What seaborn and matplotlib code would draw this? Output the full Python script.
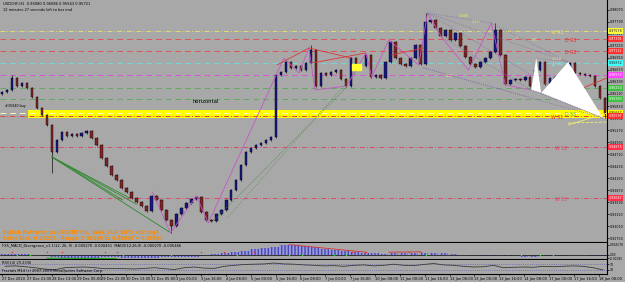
import numpy as np
import pandas as pd
import matplotlib
matplotlib.use("Agg")
import matplotlib.pyplot as plt
import seaborn as sns
from matplotlib.patches import Polygon, Rectangle

# ---------------- data ----------------
open0 = 0.96110
closes = [0.96156, 0.96203, 0.96483, 0.96296, 0.96366, 0.96250, 0.96040, 0.95784, 0.95621, 0.95388,
          0.94758, 0.95038, 0.95224, 0.95131, 0.95178, 0.95131, 0.95201, 0.95248, 0.95085, 0.94922,
          0.94619, 0.94432, 0.94223, 0.94106, 0.93920, 0.93826, 0.93687, 0.93593, 0.93500, 0.93384,
          0.93733, 0.93640, 0.93407, 0.93174, 0.93034, 0.93314, 0.93454, 0.93570, 0.93663, 0.93710,
          0.93360, 0.93174, 0.93151, 0.93314, 0.93407, 0.93640, 0.93873, 0.94106, 0.94456, 0.94758,
          0.94852, 0.94922, 0.94968, 0.95038, 0.95108, 0.96553, 0.96622, 0.96855, 0.96716, 0.96762,
          0.96669, 0.96832, 0.97135, 0.96296, 0.96599, 0.96553, 0.96622, 0.96669, 0.96459, 0.96296,
          0.96949, 0.96786, 0.96762, 0.97019, 0.96506, 0.96553, 0.96483, 0.96855, 0.97321, 0.96949,
          0.96809, 0.96762, 0.96949, 0.97252, 0.96809, 0.97787, 0.97834, 0.97648, 0.97461, 0.97601,
          0.97368, 0.97531, 0.97228, 0.96972, 0.96809, 0.96739, 0.96855, 0.96949, 0.97088, 0.97601,
          0.97019, 0.96343, 0.96436, 0.96459, 0.96436, 0.96506, 0.96296, 0.96669, 0.96855, 0.96343,
          0.96483, 0.96506, 0.96553, 0.96716, 0.96832, 0.96599, 0.96576, 0.96553, 0.96529, 0.96296,
          0.96017, 0.95644]
wick_bars = [2, 10, 34, 62, 85, 99, 121]
wick_prices = [0.96553, 0.94269, 0.92871, 0.97252, 0.97997, 0.97764, 0.95551]

price_ticks = [0.98070, 0.97790, 0.97510, 0.97230, 0.96950, 0.96670, 0.96390, 0.96110, 0.95830,
               0.95550, 0.95270, 0.94990, 0.94710, 0.94430, 0.94150, 0.93870, 0.93590, 0.93310,
               0.93030, 0.92750]

level_names = ['W R1', 'D R3', 'D R2', 'W PP', 'D PP', 'D S1', 'D S2', 'D S3', 'W S1', 'W S2', 'W S3']
level_prices = [0.97578, 0.97391, 0.97112, 0.96832, 0.96553, 0.96250, 0.95993, 0.95667, 0.95597, 0.94875, 0.93687]
band_low, band_high = 0.95551, 0.95737

time_labels = ['27 Dec 2010', '27 Dec 21:00', '28 Dec 13:00', '29 Dec 05:00', '29 Dec 21:00',
               '30 Dec 13:00', '31 Dec 05:00', '3 Jan 00:00', '3 Jan 16:00', '4 Jan 08:00',
               '5 Jan 00:00', '5 Jan 16:00', '6 Jan 08:00', '7 Jan 00:00', '7 Jan 16:00',
               '10 Jan 08:00', '11 Jan 00:00', '11 Jan 16:00', '12 Jan 08:00', '13 Jan 00:00',
               '13 Jan 16:00', '14 Jan 08:00', '17 Jan 00:00', '17 Jan 16:00', '18 Jan 08:00']

zig_bars = [30.2, 33.8, 39.0, 41.4, 55.2, 56.6, 59.6, 61.6, 62.8, 69.2, 73.0, 74.2, 77.6, 83.6,
            85.4, 88.2, 93.6, 98.2, 101.0, 106.2]
zig_prices = [0.93826, 0.92871, 0.93733, 0.93104, 0.96599, 0.96949, 0.96599, 0.97182, 0.96203,
              0.96296, 0.97065, 0.96506, 0.97368, 0.96786, 0.97997, 0.97438, 0.96669, 0.97764,
              0.96320, 0.96203]

bf_bars = [106.2, 107.2, 108.2, 113.6, 120.6]          # X A B C D
bf_prices = [0.96203, 0.96949, 0.96133, 0.96855, 0.95551]

macd_hist = [0.0002, 0.0003, 0.0002, 0.0000, -0.0003, -0.0006, -0.0008, -0.0008, -0.0007, -0.0007,
             -0.0006, -0.0006, -0.0007, -0.0008, -0.0008, -0.0007, -0.0006, -0.0006, -0.0005, -0.0004,
             -0.0003, 0.0002, 0.0005, 0.0008, 0.0011, 0.0014, 0.0017, 0.0021, 0.0024, 0.0024,
             0.0022, 0.0019, 0.0016, 0.0013, 0.0010, 0.0007, 0.0005, 0.0004, 0.0003, 0.0004,
             0.0005, 0.0005, 0.0006, 0.0006, 0.0005, 0.0003, 0.0001, -0.0002, -0.0003, -0.0003,
             -0.0002, -0.0003, -0.0004, -0.0004, -0.0003, -0.0002, -0.0002, -0.0001, -0.0001, -0.0002,
             -0.0003]
macd_red_marks = [2, 9, 12, 20.6, 23, 40, 44.6, 50.6, 70.2, 73, 81.6, 84]
macd_green_marks = [3, 5.6, 24.2, 34, 47.2, 57.6, 60.2, 66.6, 69, 85, 104.2, 108, 110.6]

rsi_vals = [55, 58, 52, 45, 35, 30, 45, 48, 50, 45, 38, 40, 38, 36, 40, 45, 38, 32, 45, 50,
            42, 40, 55, 62, 68, 70, 72, 78, 72, 70, 65, 62, 58, 60, 55, 62, 65, 58, 62, 70,
            62, 60, 68, 75, 65, 62, 55, 50, 52, 62, 45, 48, 50, 48, 55, 52, 55, 58, 55, 45, 29]

# ---------------- figure ----------------
sns.set_theme(style="white")
plt.rcParams['font.family'] = ['DejaVu Sans']
BG = '#a8a8a8'
W, H = 625, 282
fig = plt.figure(figsize=(6.25, 2.82), dpi=100, facecolor=BG)


def rect(x0, y0, x1, y1):
    return [x0 / W, 1 - y1 / H, (x1 - x0) / W, (y1 - y0) / H]


ax = fig.add_axes(rect(0, 0, 607, 242))
axm = fig.add_axes(rect(0, 243, 607, 259), sharex=ax)
axr = fig.add_axes(rect(0, 260, 607, 274), sharex=ax)
for a in (ax, axm, axr):
    a.set_facecolor(BG)
    for s in ('left', 'top'):
        a.spines[s].set_visible(False)
    for s in ('right', 'bottom'):
        a.spines[s].set_color('black')
        a.spines[s].set_linewidth(0.8)

n = len(closes)
idx = np.arange(n)
c = np.array(closes)
o = np.array([open0] + closes[:-1])
ax.set_xlim(-0.4, 121.4)
ax.set_ylim(0.92661, 0.9830)

# levels
lev_style = {
    'W R1': ('#dede70', (0, (5, 2, 1, 2)), '#e8e870', 110.2),
    'D R3': ('#e05555', (0, (6, 4)), '#e03030', 113),
    'D R2': ('#e05555', (0, (6, 4)), '#e03030', 113),
    'W PP': ('#70d8d8', (0, (6, 4)), '#90e8e8', 110.2),
    'D PP': ('#d855d8', (0, (6, 4)), '#f0c0ff', 113.4),
    'D S1': ('#60aa60', (0, (6, 4)), '#80d080', 113),
    'D S2': ('#60aa60', (0, (6, 4)), '#80d080', 113),
    'D S3': ('#f8f8c0', (0, (6, 4)), '#60b060', 113),
    'W S1': ('#e04040', (0, (5, 2, 1, 2)), '#e03030', 110.2),
    'W S2': ('#d84a6a', (0, (5, 2, 1, 2)), '#d84a6a', 111),
    'W S3': ('#d84a6a', (0, (5, 2, 1, 2)), '#d84a6a', 111),
}
ax.axhspan(band_low, band_high, xmin=(5.2 + 0.4) / 121.8, xmax=1, color='#ffff00', lw=0, zorder=1)
for name, p in zip(level_names, level_prices):
    col, ls, tcol, lx = lev_style[name]
    ax.axhline(p, color=col, lw=0.7, ls=ls, zorder=2)
    ax.text(lx, p + 0.0002, name, color=tcol, fontsize=3.4, va='top', ha='left', zorder=6)

# right-axis coloured price boxes
box_cols = ['#ffff40', '#ff3030', '#ff3030', '#40ffff', '#ff40ff', '#40c040', '#40c040',
            '#ffff00', '#ff3030', '#ff3048', '#ff3048']
box_tc = ['k', 'w', 'w', 'k', 'w', 'w', 'w', 'k', 'w', 'w', 'w']
tr = ax.get_yaxis_transform()
for p, fc, tc in zip(level_prices, box_cols, box_tc):
    ax.text(1.003, p, f'{p:.5f}', transform=tr, fontsize=2.3, va='center', ha='left', color=tc,
            bbox=dict(boxstyle='square,pad=0.2', fc=fc, ec='none'), clip_on=False, zorder=10)

# candles
up = c >= o
body = np.where(np.abs(c - o) < 0.00006, 0.00006, c - o)
lo = np.minimum(o, c) - 0.00025
hi = np.maximum(o, c) + 0.00025
ax.vlines(idx, lo, hi, color='#101010', lw=0.5, zorder=4)
ax.vlines(wick_bars, np.minimum(np.array(wick_prices), c[wick_bars]),
          np.maximum(np.array(wick_prices), c[wick_bars]), color='#101010', lw=0.5, zorder=4)
ax.bar(idx[up], body[up], bottom=o[up], width=0.5, color='#18187a', edgecolor='#000020', lw=0.3, zorder=5)
ax.bar(idx[~up], body[~up], bottom=o[~up], width=0.5, color='#7a2626', edgecolor='#200000', lw=0.3, zorder=5)

# zigzag
sns.lineplot(x=zig_bars, y=zig_prices, ax=ax, color='#c855c8', lw=0.6, sort=False, zorder=6)

# green fan
for eb, ep in [(24.2, 0.93640), (25.6, 0.93687), (33.6, 0.92894), (27.0, 0.93540)]:
    ax.plot([10, eb], [0.94642, ep], color='#2e8a2e', lw=0.6, zorder=6)
# rising green dotted
ax.plot([42.2, 69.2], [0.93127, 0.96273], color='#3a8a3a', lw=0.6, ls=':', zorder=6)
ax.plot([45.2, 72.6], [0.93221, 0.96832], color='#6a8a5a', lw=0.6, ls=':', zorder=6)
# red trend lines
for (b0, p0, b1, p1) in [(55.2, 0.96786, 61.6, 0.97182), (61.6, 0.97182, 70.0, 0.96949),
                         (62.2, 0.96832, 73.0, 0.97065), (78.2, 0.97019, 84.6, 0.97182),
                         (115.6, 0.96203, 121.4, 0.96483)]:
    ax.plot([b0, b1], [p0, p1], color='#d83a3a', lw=0.6, zorder=6)
ax.add_patch(Rectangle((70.2, 0.96669), 1.8, 0.0014, color='#ffff30', zorder=7))

# wedge dotted lines
for (b0, p0, b1, p1) in [(85.4, 0.97997, 113.6, 0.96855), (85.4, 0.97997, 120.6, 0.95551),
                         (84.6, 0.96716, 120.6, 0.95551), (84.6, 0.96716, 105.6, 0.96040),
                         (85.4, 0.97997, 98.2, 0.97764), (98.2, 0.97764, 113.6, 0.96855),
                         (88.2, 0.97438, 106.2, 0.96203)]:
    ax.plot([b0, b1], [p0, p1], color='#8870a0', lw=0.6, ls=':', zorder=6)

# butterfly
X, A, B, C, D = list(zip(bf_bars, bf_prices))
ax.add_patch(Polygon([X, A, B], closed=True, fc='white', ec='none', zorder=6))
ax.add_patch(Polygon([B, C, D], closed=True, fc='white', ec='none', zorder=6))
for (p, q) in [(X, B), (A, C), (B, D), (X, D)]:
    ax.plot([p[0], q[0]], [p[1], q[1]], color='#8870a0', lw=0.5, ls=':', zorder=7)
ax.plot([113.6, 121.4], [0.95388, 0.95667], color='#f0f070', lw=0.6, zorder=7)
ax.plot([113.6, 121.4], [0.95434, 0.95457], color='#f0f070', lw=0.6, ls='--', zorder=7)

for t, b, p in [('0.886', 91.6, 0.97900), ('1.13', 94.2, 0.97760), ('1', 103.0, 0.97380),
                ('0.5', 106.4, 0.97350), ('1.618', 110.2, 0.96900), ('1.27', 89.0, 0.96500)]:
    ax.text(b, p, t, fontsize=2.6, color='#e8e870', zorder=8)

ax.text(38.2, 0.95900, 'horizontal', fontsize=3.8, color='black', zorder=8)
ax.text(0.6, 0.95807, '#35940 buy', fontsize=2.4, color='black', zorder=8)

fig.text(3 / W, 1 - 4 / H, 'USDCHF,H1  0.96080 0.96086 0.95563 0.95721', fontsize=2.6, va='center', color='black')
fig.text(3 / W, 1 - 10 / H, '12 minutes 27 seconds left to bar end', fontsize=2.6, va='center', color='black')
fig.text(3 / W, 1 - 232 / H, 'Bullish Butterfly on USDCHF H1,  WAR_ZUP_INFO_v02.mq4', fontsize=3.4,
         va='center', color='#ff8c00', weight='bold')
fig.text(3 / W, 1 - 238.5 / H, 'Entry Risk: 0.00232 , Range: 0.95389 to 0.95896 = 0.00507', fontsize=3.4,
         va='center', color='#ff8c00', weight='bold')

ax.yaxis.tick_right()
ax.set_yticks(price_ticks)
ax.set_yticklabels([f'{v:.5f}' for v in price_ticks])
ax.tick_params(axis='y', labelsize=2.3, length=1.2, width=0.5, pad=0.6, colors='black', right=True)
ax.tick_params(axis='x', bottom=False, labelbottom=False)

# MACD
mb = np.arange(len(macd_hist)) * 2 + 0.6
axm.set_ylim(-0.0010, 0.0030)
axm.bar(mb, macd_hist, width=1.9, color='#9a9ad6', edgecolor='#4848b8', hatch='|||||', lw=0, zorder=2)
axm.axhline(0, color='#202020', lw=0.6, zorder=3)
axm.plot([57.6, 73.0], [0.0026, 0.0007], color='#d83030', lw=0.6, zorder=4)
axm.plot([77.6, 84.0], [0.0007, 0.0008], color='#d83030', lw=0.6, zorder=4)
axm.plot([9, 23], [-0.0008, -0.0009], color='#20a020', lw=0.8, zorder=4)
axm.scatter(macd_red_marks, [0.00075] * len(macd_red_marks), marker='*', s=3, color='#ff2020', lw=0, zorder=5)
axm.scatter(macd_green_marks, [0.0] * len(macd_green_marks), marker='*', s=3, color='#20ff20', lw=0, zorder=5)
axm.text(0.004, 0.93, 'FX5_MACD_Divergence_v1.1(12, 26, 9) -0.000270 -0.000451  MACD(12,26,9) -0.000270 -0.000466',
         transform=axm.transAxes, fontsize=2.6, va='top', color='black')
axm.yaxis.tick_right()
axm.set_yticks([0.0026, 0.0, -0.00085])
axm.set_yticklabels(['0.002578', '0.00', '-0.00085'])
axm.tick_params(axis='y', labelsize=2.1, length=1.2, width=0.5, pad=0.6, colors='black', right=True)
axm.tick_params(axis='x', bottom=False, labelbottom=False)

# RSI
rb = np.arange(len(rsi_vals)) * 2 + 0.6
axr.set_ylim(0, 100)
axr.axhline(70, color='#5050b0', lw=0.5, ls=':')
axr.axhline(30, color='#5050b0', lw=0.5, ls=':')
sns.lineplot(x=rb, y=rsi_vals, ax=axr, color='#383838', lw=0.6)
axr.set_ylabel('')
axr.text(0.004, 0.9, 'RSI(14) 29.2336', transform=axr.transAxes, fontsize=2.6, va='top', color='black')
axr.text(0.004, 0.38, 'Fractals M14 (c) 2007-2009 MetaQuotes Software Corp.', transform=axr.transAxes,
         fontsize=2.6, va='top', color='black')
axr.yaxis.tick_right()
axr.set_yticks([70, 30])
axr.set_yticklabels(['70', '30'])
axr.tick_params(axis='y', labelsize=2.3, length=1.2, width=0.5, pad=0.6, colors='black', right=True)

tick_pos = np.arange(len(time_labels)) * 4.99
axr.set_xticks(tick_pos)
axr.set_xticklabels(time_labels, ha='left')
axr.tick_params(axis='x', labelsize=2.6, length=1.5, width=0.5, pad=0.8, colors='black', bottom=True, direction='out')
for a in (ax, axm):
    a.set_ylabel('')
ax.set_xlabel('')
axr.set_xlabel('')

fig.savefig('out.png', dpi=100, facecolor=BG)
